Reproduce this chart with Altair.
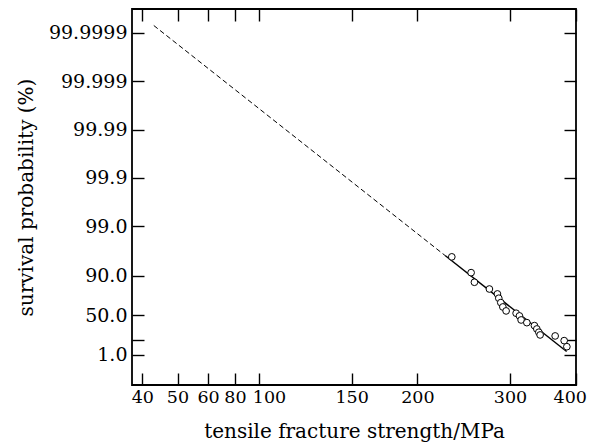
import math
import altair as alt
import pandas as pd

# ---- data ----
strength = [232.5, 253.0, 256.7, 274.1, 283.9, 285.6, 288.1, 290.7, 294.9, 308.1,
            312.6, 314.9, 322.9, 333.8, 337.3, 340.3, 342.2, 365.5, 380.2, 384.7]
survival = [95.8, 91.3, 86.6, 82.0, 77.8, 73.5, 68.4, 62.7, 56.9, 53.3,
            48.9, 42.0, 37.3, 32.1, 26.4, 21.1, 17.0, 15.6, 9.8, 4.5]

dashed_strength = [63.1, 225.8]
dashed_survival = [99.99993, 96.05]
solid_strength = [225.8, 384.3]
solid_survival = [96.05, 2.05]

y_tick_values = [99.9999, 99.999, 99.99, 99.9, 99.0, 90.0, 50.0, 10.0, 1.0]
y_tick_labels = ["99.9999", "99.999", "99.99", "99.9", "99.0", "90.0", "50.0", "", "1.0"]
x_tick_values = [60, 70, 80, 90, 100, 150, 200, 300, 400]
x_tick_labels = ["40", "50", "60", "80", "100", "150", "200", "300", "400"]
x_domain = [57.36, 400.4]
y_domain = [-2.957, 14.959]   # in Weibull units -ln(-ln P)


def weib(p):
    return -math.log(-math.log(p / 100.0))


pts = pd.DataFrame({"s": strength, "w": [weib(p) for p in survival]})
dashed = pd.DataFrame({"s": dashed_strength, "w": [weib(p) for p in dashed_survival]})
solid = pd.DataFrame({"s": solid_strength, "w": [weib(p) for p in solid_survival]})

y_ticks_w = [weib(p) for p in y_tick_values]

x_expr = "".join(f"abs(datum.value - {v}) < 0.01 ? '{l}' : " for v, l in zip(x_tick_values, x_tick_labels)) + "''"
y_expr = "".join(f"abs(datum.value - {v:.6f}) < 0.01 ? '{l}' : " for v, l in zip(y_ticks_w, y_tick_labels)) + "''"

W, H = 444, 376
FONT = "DejaVu Serif"
xscale = alt.Scale(type="log", domain=x_domain, nice=False, zero=False)
yscale = alt.Scale(type="linear", domain=y_domain, nice=False, zero=False)

common = dict(domain=False, grid=False, offset=-12, tickSize=12, tickColor="black",
              tickWidth=1.4)

x_bottom = alt.X("s:Q", scale=xscale, axis=alt.Axis(
    orient="bottom", values=x_tick_values, labelExpr=x_expr, labelOverlap=False,
    labelFont=FONT, labelFontSize=17.5, labelColor="black", labelPadding=3,
    labelOffset={"condition": [
        {"test": "abs(datum.value - 100) < 0.01", "value": 10},
        {"test": "abs(datum.value - 400) < 0.01", "value": -6},
    ], "value": 0},
    labelFlush=False,
    title="tensile fracture strength/MPa", titleFont=FONT, titleFontSize=20,
    titleFontWeight="normal", titleColor="black", titleX=222, titleY=64,
    titleAlign="center", titleBaseline="alphabetic", **common))
y_left = alt.Y("w:Q", scale=yscale, axis=alt.Axis(
    orient="left", values=y_ticks_w, labelExpr=y_expr, labelOverlap=False,
    labelFont=FONT, labelFontSize=19, labelColor="black", labelPadding=5,
    labelFlush=False,
    title="survival probability (%)", titleFont=FONT, titleFontSize=20,
    titleFontWeight="normal", titleColor="black", titleX=-112, titleY=188,
    titleAngle=270, titleAlign="center", titleBaseline="alphabetic", **common))
x_top = alt.X("s:Q", scale=xscale, axis=alt.Axis(
    orient="top", values=x_tick_values, labels=False, title=None, **common))
y_right = alt.Y("w:Q", scale=yscale, axis=alt.Axis(
    orient="right", values=y_ticks_w, labels=False, title=None, **common))

dash_layer = alt.Chart(dashed).mark_line(color="black", strokeWidth=1, strokeDash=[5, 3]).encode(
    x=x_bottom, y=y_left)
solid_layer = alt.Chart(solid).mark_line(color="black", strokeWidth=1.4).encode(
    x=x_top, y=y_right)
point_layer = alt.Chart(pts).mark_point(shape="circle", fill="white", stroke="black",
                                        strokeWidth=1, size=45, opacity=1, fillOpacity=1).encode(
    x=alt.X("s:Q", scale=xscale, axis=None), y=alt.Y("w:Q", scale=yscale, axis=None))

chart = alt.layer(dash_layer, solid_layer, point_layer).resolve_axis(
    x="independent", y="independent"
).properties(
    width=W, height=H,
    autosize=alt.AutoSizeParams(type="none"),
    padding={"left": 124, "top": 1, "right": 11, "bottom": 62},
).configure(
    background="white",
    view=alt.ViewConfig(stroke="black", strokeWidth=1.8),
)

chart.save("out.html", embed_options={"renderer": "svg", "actions": False})
